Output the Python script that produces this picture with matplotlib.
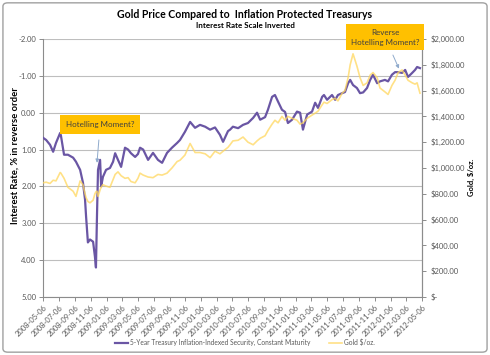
import numpy as np
import pandas as pd
import matplotlib
matplotlib.use("Agg")
import matplotlib.pyplot as plt
import matplotlib.dates as mdates
from matplotlib.patches import FancyBboxPatch

plt.rcParams['font.family'] = ['Lato', 'DejaVu Sans']

# readings taken off the chart (approximate)
dates = ["2008-05-06", "2008-05-18", "2008-06-02", "2008-06-14", "2008-06-25", "2008-07-11",
         "2008-07-14", "2008-07-26", "2008-08-10", "2008-08-30", "2008-09-10", "2008-09-26",
         "2008-10-07", "2008-10-15", "2008-10-19", "2008-10-26", "2008-11-03", "2008-11-15",
         "2008-11-22", "2008-11-26", "2008-11-30", "2008-12-04", "2008-12-12", "2008-12-16",
         "2008-12-23", "2009-01-04", "2009-01-19", "2009-01-31", "2009-02-08", "2009-02-19",
         "2009-03-03", "2009-03-18", "2009-03-30", "2009-04-10", "2009-04-26", "2009-05-07",
         "2009-05-15", "2009-05-27", "2009-06-15", "2009-07-04", "2009-07-23", "2009-08-08",
         "2009-08-27", "2009-09-15", "2009-10-05", "2009-10-16", "2009-11-04", "2009-11-24",
         "2009-12-13", "2010-01-01", "2010-01-21", "2010-02-09", "2010-02-28", "2010-03-19",
         "2010-03-31", "2010-04-19", "2010-04-27", "2010-05-08", "2010-05-28", "2010-06-16",
         "2010-07-05", "2010-07-25", "2010-08-09", "2010-08-21", "2010-09-09", "2010-09-20",
         "2010-10-06", "2010-10-17", "2010-10-29", "2010-11-13", "2010-11-25", "2010-12-06",
         "2010-12-22", "2011-01-10", "2011-01-22", "2011-02-02", "2011-02-18", "2011-03-09",
         "2011-03-21", "2011-04-01", "2011-04-17", "2011-04-24", "2011-05-06", "2011-05-25",
         "2011-06-06", "2011-06-17", "2011-07-03", "2011-07-14", "2011-07-26", "2011-08-03",
         "2011-08-14", "2011-08-29", "2011-09-10", "2011-09-22", "2011-10-07", "2011-10-19",
         "2011-10-30", "2011-11-15", "2011-11-26", "2011-12-15", "2011-12-27", "2012-01-11",
         "2012-01-23", "2012-02-04", "2012-02-19", "2012-03-02", "2012-03-13", "2012-03-29",
         "2012-04-09", "2012-04-17", "2012-04-28"]

tips = [0.68, 0.74, 0.87, 1.06, 0.82, 0.55, 0.62, 1.14, 1.14, 1.22, 1.33, 1.55,
        1.90, 2.36, 2.82, 3.52, 3.44, 3.50, 3.90, 4.20, 2.80, 1.55, 1.28, 2.00,
        1.74, 1.55, 1.50, 1.33, 1.10, 1.28, 1.47, 0.95, 1.00, 1.10, 1.20, 1.12,
        0.95, 1.00, 1.28, 1.09, 1.28, 1.36, 1.09, 0.95, 0.82, 0.74, 0.52, 0.25,
        0.41, 0.33, 0.38, 0.46, 0.40, 0.60, 0.79, 0.50, 0.46, 0.38, 0.42, 0.33,
        0.28, 0.14, 0.00, 0.19, 0.12, -0.08, -0.43, -0.48, -0.30, -0.08, -0.02, 0.28,
        0.19, -0.03, 0.00, 0.46, 0.05, -0.03, -0.27, -0.13, -0.43, -0.48, -0.35, -0.48,
        -0.35, -0.48, -0.53, -0.56, -0.80, -0.89, -0.75, -0.67, -0.53, -0.55, -0.67, -0.89,
        -1.03, -0.80, -0.85, -0.89, -0.85, -1.03, -1.10, -1.10, -1.08, -1.16, -0.97, -1.08,
        -1.16, -1.24, -1.21]

gold = [885, 890, 880, 905, 900, 965, 960, 920, 850, 820, 780, 900,
        870, 800, 770, 740, 730, 750, 800, 815, 820, 780, 830, 850,
        870, 860, 850, 910, 950, 970, 940, 920, 925, 895, 885, 920,
        960, 945, 930, 925, 950, 945, 960, 1000, 1050, 1060, 1100, 1190,
        1120, 1120, 1110, 1080, 1130, 1110, 1130, 1160, 1180, 1210, 1215, 1240,
        1200, 1180, 1210, 1230, 1250, 1290, 1340, 1370, 1350, 1400, 1370, 1400,
        1385, 1370, 1340, 1350, 1385, 1410, 1425, 1440, 1490, 1510, 1500, 1530,
        1540, 1520, 1580, 1600, 1700, 1800, 1885, 1790, 1700, 1640, 1660, 1720,
        1740, 1700, 1620, 1590, 1570, 1640, 1680, 1740, 1760, 1720, 1680, 1660,
        1650, 1660, 1580]

rate_ticks = [-2, -1, 0, 1, 2, 3, 4, 5]
gold_ticks = [0, 200, 400, 600, 800, 1000, 1200, 1400, 1600, 1800, 2000]

d = pd.to_datetime(dates)
xticks = pd.date_range("2008-05-06", "2012-05-06", freq=pd.DateOffset(months=2))

purple = '#6A56A4'
yellow = '#FFD75E'
grey_txt = '#595959'

fig = plt.figure(figsize=(4.9, 3.55), dpi=100)
fig.patches.append(FancyBboxPatch((0.006, 0.008), 0.988, 0.984,
                                  boxstyle='round,pad=0,rounding_size=0.01',
                                  transform=fig.transFigure, fc='none', ec='#A0A0A0', lw=1))

ax = fig.add_axes([0.0878, 0.1634, 0.7735, 0.7268])
ax.plot(d, tips, color=purple, lw=1.6, zorder=3)
ax.set_ylim(5, -2)
ax.set_yticks(rate_ticks)
ax.set_yticklabels([f"{v:.2f}" for v in rate_ticks])
ax.set_xlim(xticks[0], xticks[-1])
ax.set_xticks(xticks)
ax.xaxis.set_major_formatter(mdates.DateFormatter('%Y-%m-%d'))
plt.setp(ax.get_xticklabels(), rotation=45, ha='right', va='top', rotation_mode='anchor')
ax.grid(axis='y', color='#BEBEBE', lw=0.8)
ax.set_axisbelow(True)
ax.spines['top'].set_visible(False)
for s in ['left', 'bottom', 'right']:
    ax.spines[s].set_color('#8C8C8C')
    ax.spines[s].set_linewidth(0.8)
ax.tick_params(axis='both', labelsize=5.5, colors='#8C8C8C', labelcolor=grey_txt,
               length=3, width=0.7, pad=2)

ax2 = ax.twinx()
ax2.plot(d, gold, color=yellow, lw=1.2, alpha=0.75, zorder=3)
ax2.set_ylim(0, 2000)
ax2.set_yticks(gold_ticks)
ax2.set_yticklabels(["$-" if v == 0 else f"${v:,.2f}" for v in gold_ticks])
ax2.tick_params(axis='y', labelsize=5.5, colors='#8C8C8C', labelcolor=grey_txt,
                length=3, width=0.7, pad=3)
for s in ['top', 'left', 'bottom']:
    ax2.spines[s].set_visible(False)
ax2.spines['right'].set_color('#8C8C8C')
ax2.spines['right'].set_linewidth(0.8)

fig.text(0.5, 0.958, "Gold Price Compared to  Inflation Protected Treasurys",
         ha='center', va='center', fontsize=7.6, fontweight='bold')
fig.text(0.5, 0.928, "Interest Rate Scale Inverted", ha='center', va='center',
         fontsize=5.8, fontweight='bold')
fig.text(0.031, 0.563, "Interest Rate, % in reverse order", rotation=90,
         ha='center', va='center', fontsize=6.8, fontweight='bold')
fig.text(0.963, 0.50, "Gold, $/oz.", rotation=90, ha='center', va='center',
         fontsize=5.5, fontweight='bold')

arrow = dict(arrowstyle='-|>', color='#8FAACC', lw=0.7, mutation_scale=5, shrinkA=4, shrinkB=0)
ax.annotate("Hotelling Moment?", xy=(pd.Timestamp("2008-11-30"), 1.36),
            xytext=(pd.Timestamp("2008-12-12"), 0.33), ha='center', va='center',
            fontsize=5.8, color='#404040', arrowprops=arrow, zorder=5,
            bbox=dict(boxstyle='square,pad=0.75', fc='#FFC000', ec='none'))
ax2.annotate("Reverse\nHotelling Moment?", xy=(pd.Timestamp("2012-02-07"), 1770),
             xytext=(pd.Timestamp("2011-12-15"), 2015), ha='center', va='center',
             fontsize=5.8, color='#404040', arrowprops=arrow, annotation_clip=False,
             linespacing=1.5, zorder=5,
             bbox=dict(boxstyle='square,pad=0.55', fc='#FFC000', ec='none'))

handles = [ax.lines[0], ax2.lines[0]]
fig.legend(handles, ["5-Year Treasury Inflation-Indexed Security, Constant Maturity", "Gold $/oz."],
           loc='center', bbox_to_anchor=(0.5, 0.035), ncol=2, frameon=False,
           fontsize=4.8, handlelength=2.0, handletextpad=0.3, columnspacing=2.8,
           labelcolor=grey_txt)

fig.savefig("out.png", dpi=100)
